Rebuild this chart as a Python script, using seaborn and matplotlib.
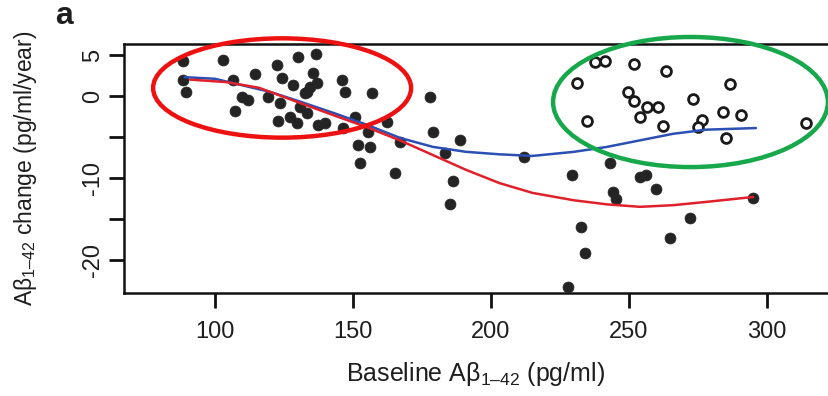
import matplotlib
matplotlib.use("Agg")
import matplotlib.pyplot as plt
from matplotlib.patches import Ellipse
import seaborn as sns
import pandas as pd

# ---- data ----
filled_x = [88.4, 88.4, 89.5, 102.9, 106.5, 114.5, 122.5, 130.1, 136.6, 135.5,
            124.3, 128.3, 109.8, 112.0, 119.2, 123.6, 107.2, 122.8, 127.2, 129.7,
            133.3, 139.9, 130.8, 132.6, 134.4, 137.0, 133.3, 146.0, 147.1, 156.9,
            177.9, 137.3, 146.4, 150.7, 155.4, 162.3, 151.8, 156.2, 152.5, 167.0,
            165.2, 179.0, 188.8, 183.3, 186.2, 185.1, 212.0, 229.3, 227.9, 232.5,
            234.1, 243.1, 254.0, 256.2, 244.2, 245.3, 259.8, 294.9, 272.1, 264.9]
filled_y = [4.27, 1.95, 0.49, 4.39, 1.95, 2.68, 3.78, 4.76, 5.12, 2.80,
            2.20, 1.34, -0.12, -0.49, -0.12, -0.85, -1.83, -3.05, -2.56, -3.29,
            -2.07, -3.29, -1.34, 0.37, 1.10, 1.59, 0.49, 1.95, 0.49, 0.37,
            -0.12, -3.50, -3.90, -2.56, -4.39, -3.17, -5.98, -6.22, -8.17, -5.61,
            -9.39, -4.39, -5.37, -6.95, -10.37, -13.17, -7.44, -9.63, -23.3, -16.0,
            -19.1, -8.17, -9.88, -9.63, -11.7, -12.56, -11.34, -12.44, -14.88, -17.3]

open_x = [237.7, 241.3, 251.8, 263.4, 231.2, 286.6, 249.6, 251.8, 256.5, 260.5,
          273.2, 234.8, 254.0, 262.3, 276.4, 275.0, 284.1, 290.6, 285.1, 314.1]
open_y = [4.15, 4.27, 3.90, 3.05, 1.59, 1.46, 0.49, -0.61, -1.34, -1.34,
          -0.37, -3.05, -2.56, -3.66, -2.93, -3.78, -1.95, -2.32, -5.12, -3.29]

blue_x = [89, 100, 110, 120, 131, 143, 155, 167, 179, 191, 203, 215, 230, 242, 254, 266, 278, 296]
blue_y = [2.3, 2.1, 1.3, 0.5, -0.7, -2.07, -3.5, -5.1, -6.2, -6.8, -7.1, -7.3, -6.8, -6.2, -5.4, -4.6, -4.1, -3.9]

red_x = [91, 104, 116, 128, 141, 155, 167, 179, 191, 203, 215, 230, 242, 254, 266, 278, 295]
red_y = [2.0, 1.7, 1.0, -0.5, -2.1, -3.8, -5.4, -7.2, -9.0, -10.6, -11.8, -12.7, -13.2, -13.5, -13.3, -12.9, -12.3]

x_ticks = [100, 150, 200, 250, 300]
y_ticks = [5, 0, -5, -10, -15, -20]
y_tick_labels = ["5", "0", "", "-10", "", "-20"]

# ---- style ----
sns.set_style("ticks")
plt.rcParams["font.family"] = ["Liberation Sans", "DejaVu Sans"]
plt.rcParams["mathtext.fontset"] = "custom"
plt.rcParams["mathtext.rm"] = "Liberation Sans"
plt.rcParams["mathtext.it"] = "Liberation Sans:italic"
plt.rcParams["mathtext.default"] = "regular"

fig = plt.figure(figsize=(8.29, 3.96), dpi=100)
ax = fig.add_axes([124 / 829, 1 - 293 / 396, 1 - 124 / 829, (293 - 44) / 396])

df_f = pd.DataFrame({"x": filled_x, "y": filled_y})
df_o = pd.DataFrame({"x": open_x, "y": open_y})
df_b = pd.DataFrame({"x": blue_x, "y": blue_y})
df_r = pd.DataFrame({"x": red_x, "y": red_y})

sns.scatterplot(data=df_f, x="x", y="y", ax=ax, s=62, color="#242424",
                edgecolor="#242424", linewidth=0.5, zorder=3)
sns.scatterplot(data=df_o, x="x", y="y", ax=ax, s=50, facecolor="white",
                edgecolor="#1a1a1a", linewidth=2.0, zorder=3)
sns.lineplot(data=df_b, x="x", y="y", ax=ax, color="#2b4fb3", linewidth=1.8,
             estimator=None, sort=False, zorder=4)
sns.lineplot(data=df_r, x="x", y="y", ax=ax, color="#e0202a", linewidth=1.8,
             estimator=None, sort=False, zorder=4)

ax.set_xlim(67, 322.5)
ax.set_ylim(-24.0, 6.34)
ax.set_xticks(x_ticks)
ax.set_xticklabels([str(t) for t in x_ticks])
ax.set_yticks(y_ticks)
ax.set_yticklabels(y_tick_labels, rotation=90, va="center")

for side in ["left", "bottom", "top"]:
    ax.spines[side].set_linewidth(1.8)
    ax.spines[side].set_color("#111111")
ax.spines["right"].set_visible(False)
ax.tick_params(axis="both", direction="out", length=10.5, width=2, color="#111111",
               labelsize=17, labelcolor="#1e1e1e")
ax.tick_params(axis="x", pad=10)
ax.tick_params(axis="y", pad=4)

ax.set_xlabel("Baseline Aβ$_{1–42}$ (pg/ml)", fontsize=18, color="#1e1e1e")
ax.set_ylabel("Aβ$_{1–42}$ change (pg/ml/year)", fontsize=16.5, color="#1e1e1e")
ax.xaxis.set_label_coords((476 - 124) / 705, -(374 - 293) / 249)
ax.yaxis.set_label_coords(-(124 - 25) / 705, (293 - 168) / 249)
ax.xaxis.label.set_va("center")
ax.yaxis.label.set_va("center")

# annotation ellipses
ax.add_patch(Ellipse((124.3, 0.98), 93.5, 12.1, fill=False, edgecolor="#ee1111",
                     linewidth=3.2, clip_on=False, zorder=5))
ax.add_patch(Ellipse((272.3, -0.73), 99.6, 15.85, fill=False, edgecolor="#17a84b",
                     linewidth=3.2, clip_on=False, zorder=5))

fig.text(55 / 829, 1 - 16 / 396, "a", fontsize=23, fontweight="bold",
         va="center", ha="left", color="#1e1e1e")

fig.savefig("out.png", dpi=100)
